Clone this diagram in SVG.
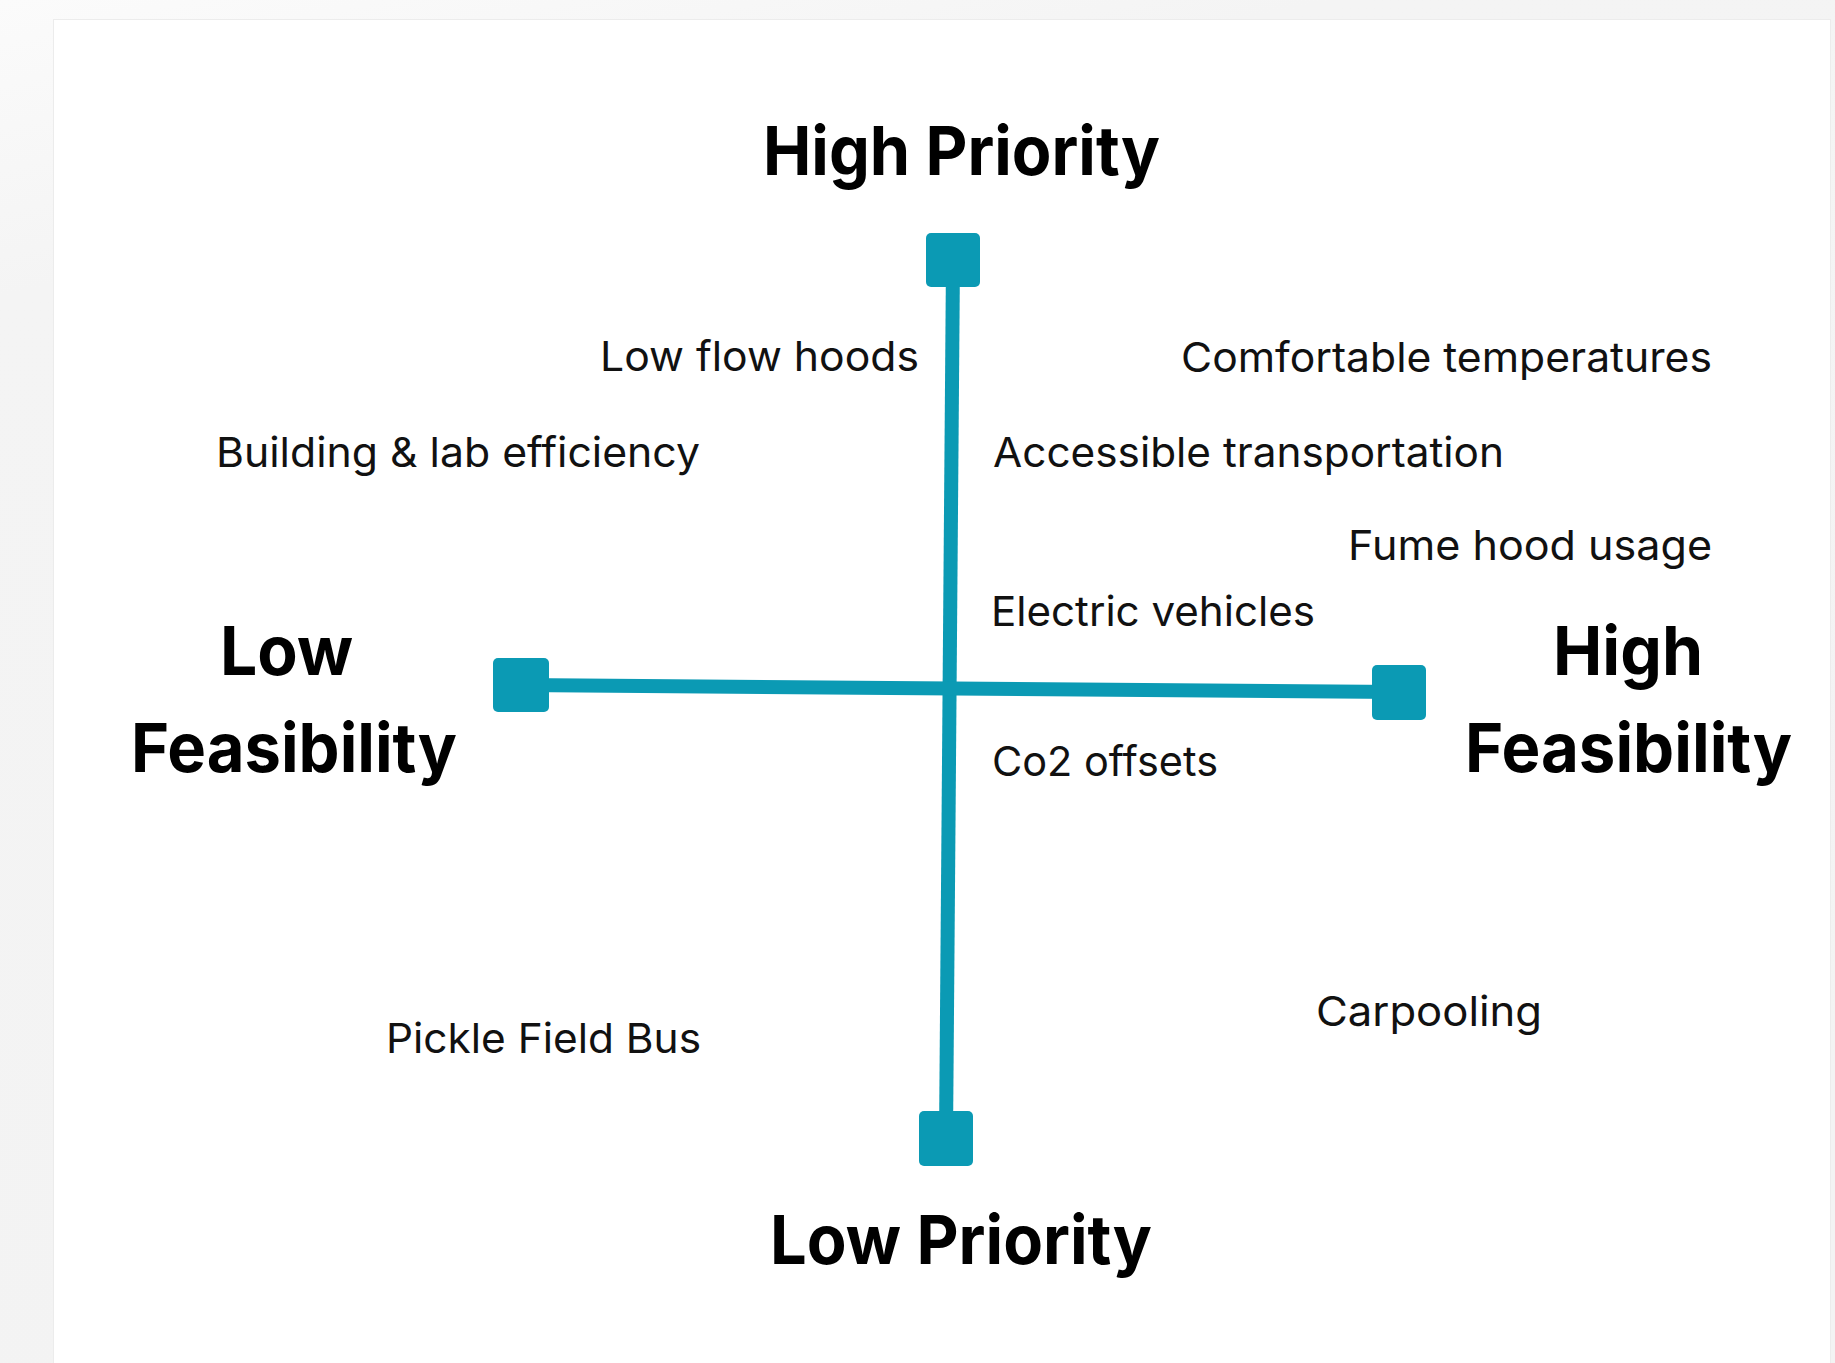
<svg xmlns="http://www.w3.org/2000/svg" width="1835" height="1363" viewBox="0 0 1835 1363">
  <style>
    .item { font-family: Inter, "Liberation Sans", sans-serif; font-size: 41px; fill: #111; }
    .head { font-family: Inter, "Liberation Sans", sans-serif; font-size: 68px; font-weight: 700; fill: #000; }
    .axis { stroke: #0b9ab4; stroke-width: 14; fill: none; }
    .end { fill: #0b9ab4; }
  </style>
  <defs>
    <linearGradient id="bg" x1="0" y1="0" x2="0.3" y2="1">
      <stop offset="0" stop-color="#fbfbfb"/>
      <stop offset="0.2" stop-color="#f4f4f4"/>
      <stop offset="1" stop-color="#f3f3f3"/>
    </linearGradient>
  </defs>
  <rect x="0" y="0" width="1835" height="1363" fill="url(#bg)"/>
  <rect x="53" y="19" width="1778" height="1344" fill="#ececec"/>
  <rect x="54" y="20" width="1776" height="1343" fill="#ffffff"/>

  <g id="connectors">
    <line class="axis" x1="953" y1="260" x2="946" y2="1138"/>
    <line class="axis" x1="521" y1="685" x2="1399" y2="692"/>
  </g>

  <g id="end-top"><rect class="end" x="926" y="233" width="54" height="54" rx="5"/></g>
  <g id="end-bottom"><rect class="end" x="919" y="1111" width="54" height="55" rx="5"/></g>
  <g id="end-left"><rect class="end" x="493" y="658" width="56" height="54" rx="5"/></g>
  <g id="end-right"><rect class="end" x="1372" y="665" width="54" height="55" rx="5"/></g>

  <g id="label-high-priority"><text class="head" x="763" y="175" textLength="397" lengthAdjust="spacingAndGlyphs">High Priority</text></g>
  <g id="label-low-priority"><text class="head" x="770" y="1264" textLength="382" lengthAdjust="spacingAndGlyphs">Low Priority</text></g>
  <g id="label-low-feasibility">
    <text class="head" x="220" y="675" textLength="133" lengthAdjust="spacingAndGlyphs">Low</text>
    <text class="head" x="131" y="772" textLength="326" lengthAdjust="spacingAndGlyphs">Feasibility</text>
  </g>
  <g id="label-high-feasibility">
    <text class="head" x="1553" y="675" textLength="150" lengthAdjust="spacingAndGlyphs">High</text>
    <text class="head" x="1465" y="772" textLength="327" lengthAdjust="spacingAndGlyphs">Feasibility</text>
  </g>

  <g id="item-low-flow-hoods"><text class="item" x="600" y="371" textLength="319" lengthAdjust="spacingAndGlyphs">Low flow hoods</text></g>
  <g id="item-comfortable-temperatures"><text class="item" x="1181" y="372" textLength="531" lengthAdjust="spacingAndGlyphs">Comfortable temperatures</text></g>
  <g id="item-building-lab-efficiency"><text class="item" x="216" y="467" textLength="484" lengthAdjust="spacingAndGlyphs">Building &amp; lab efficiency</text></g>
  <g id="item-accessible-transportation"><text class="item" x="993" y="467" textLength="511" lengthAdjust="spacingAndGlyphs">Accessible transportation</text></g>
  <g id="item-fume-hood-usage"><text class="item" x="1348" y="560" textLength="364" lengthAdjust="spacingAndGlyphs">Fume hood usage</text></g>
  <g id="item-electric-vehicles"><text class="item" x="991" y="626" textLength="324" lengthAdjust="spacingAndGlyphs">Electric vehicles</text></g>
  <g id="item-co2-offsets"><text class="item" x="992" y="776" textLength="226" lengthAdjust="spacingAndGlyphs">Co2 offsets</text></g>
  <g id="item-pickle-field-bus"><text class="item" x="386" y="1053" textLength="315" lengthAdjust="spacingAndGlyphs">Pickle Field Bus</text></g>
  <g id="item-carpooling"><text class="item" x="1316" y="1026" textLength="226" lengthAdjust="spacingAndGlyphs">Carpooling</text></g>
</svg>
